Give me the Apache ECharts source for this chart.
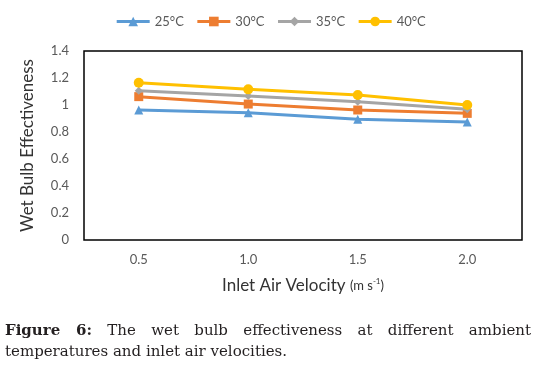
<!DOCTYPE html>
<html><head><meta charset="utf-8">
<script src="https://cdn.jsdelivr.net/npm/echarts@6/dist/echarts.min.js"></script>
<style>
html,body{margin:0;padding:0;background:#fff;}
#c{position:absolute;left:0;top:0;width:541px;height:374px;}
#cap{position:absolute;left:5px;top:320px;width:526px;font-family:"DejaVu Serif",serif;font-size:15px;line-height:21px;color:#231f20;text-align:left;}
#cap .l1{display:block;text-align:justify;text-align-last:justify;}
</style>
</head><body>
<div id="c"></div>
<div id="cap"><span class="l1"><b>Figure 6:</b> The wet bulb effectiveness at different ambient</span>temperatures and inlet air velocities.</div>
<script>
var categories = ['0.5', '1.0', '1.5', '2.0'];
var seriesNames = ['25°C', '30°C', '35°C', '40°C'];
var s25 = [0.963, 0.943, 0.894, 0.874];
var s30 = [1.062, 1.007, 0.963, 0.938];
var s35 = [1.106, 1.067, 1.024, 0.968];
var s40 = [1.165, 1.116, 1.074, 1.000];
var yTicks = [0, 0.2, 0.4, 0.6, 0.8, 1, 1.2, 1.4];

var colors = ['#5B9BD5', '#ED7D31', '#A5A5A5', '#FFC000'];
var symbols = ['triangle', 'rect', 'diamond', 'circle'];
var sizes = [9, 9, 8, 10];
var data = [s25, s30, s35, s40];

var chart = echarts.init(document.getElementById('c'));
chart.setOption({
  animation: false,
  textStyle: {fontFamily: 'Lato, "Liberation Sans", sans-serif'},
  legend: {
    top: 10, left: 'center',
    itemWidth: 33, itemHeight: 12, itemGap: 12,
    lineStyle: {width: 3},
    textStyle: {fontSize: 13, color: '#595959', fontFamily: 'Lato'},
    data: seriesNames
  },
  grid: {left: 84, right: 19, top: 51, bottom: 134, show: true, borderColor: '#000', borderWidth: 1.5},
  xAxis: {
    type: 'category', data: categories, boundaryGap: true,
    axisLine: {show: false}, axisTick: {show: false},
    axisLabel: {color: '#595959', fontSize: 13, margin: 13},
    name: '{a|Inlet Air Velocity }{b|(m s}{c|-1}{b|)}',
    nameLocation: 'middle', nameGap: 37,
    nameTextStyle: {
      rich: {
        a: {fontSize: 17, color: '#333333', fontFamily: 'Lato'},
        b: {fontSize: 13, color: '#333333', fontFamily: 'Lato'},
        c: {fontSize: 8, color: '#333333', fontFamily: 'Lato', verticalAlign: 'top', padding: [0,0,7,0]}
      }
    }
  },
  yAxis: {
    type: 'value', min: 0, max: 1.4, interval: 0.2,
    axisLine: {show: false}, axisTick: {show: false}, splitLine: {show: false},
    axisLabel: {color: '#595959', fontSize: 13, margin: 15,
      formatter: function(v){ var t = yTicks.find(function(x){return Math.abs(x-v)<1e-9;}); return (t===undefined? v : t).toString(); }},
    name: 'Wet Bulb Effectiveness', nameLocation: 'middle', nameGap: 48,
    nameTextStyle: {fontSize: 17, color: '#333333', fontFamily: 'Lato'}
  },
  series: data.map(function(d, i){
    return {
      name: seriesNames[i], type: 'line', data: d,
      symbol: symbols[i], symbolSize: sizes[i], showAllSymbol: true,
      lineStyle: {width: 3, color: colors[i]},
      itemStyle: {color: colors[i]},
      z: 2 + i
    };
  })
});
</script>
</body></html>
